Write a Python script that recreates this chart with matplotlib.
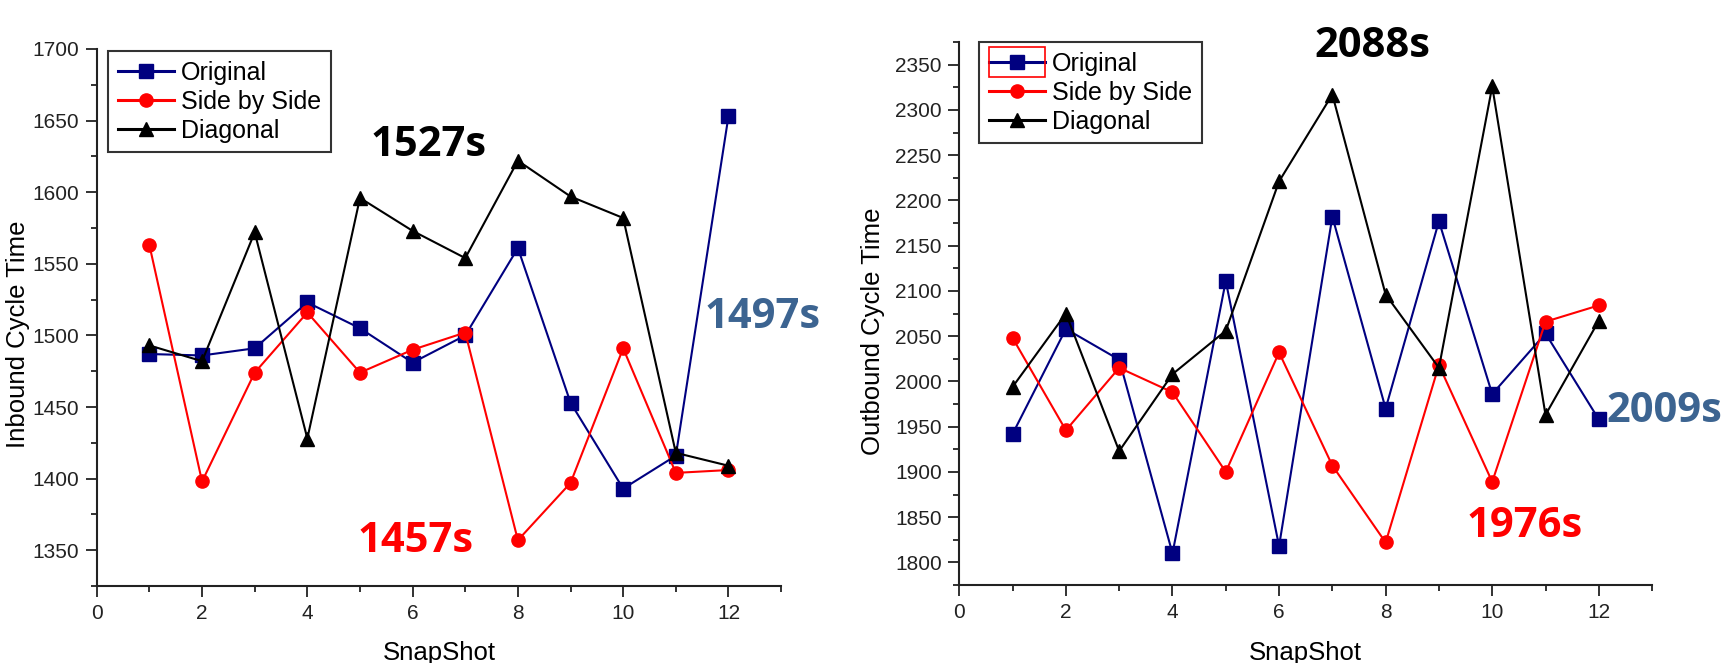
import numpy as np
import matplotlib
matplotlib.use("Agg")
import matplotlib.pyplot as plt
from matplotlib.ticker import MultipleLocator
from matplotlib.patches import Rectangle

plt.rcParams['font.family'] = ['Liberation Sans', 'DejaVu Sans']

snap = [1, 2, 3, 4, 5, 6, 7, 8, 9, 10, 11, 12]

# inbound cycle time
in_original = [1487, 1486, 1491, 1523, 1505, 1481, 1500, 1561, 1453, 1393, 1416, 1653]
in_side = [1563, 1398, 1474, 1516, 1474, 1490, 1502, 1357, 1397, 1491, 1404, 1406]
in_diag = [1493, 1482, 1572, 1428, 1596, 1573, 1554, 1622, 1597, 1582, 1418, 1409]

# outbound cycle time
out_original = [1942, 2058, 2024, 1810, 2111, 1818, 2182, 1970, 2177, 1986, 2053, 1958]
out_side = [2048, 1946, 2015, 1988, 1900, 2032, 1907, 1822, 2018, 1889, 2066, 2084]
out_diag = [1994, 2075, 1923, 2008, 2056, 2221, 2317, 2096, 2015, 2326, 1963, 2067]

labels = ["Original", "Side by Side", "Diagonal"]

NAVY = "#000080"
AX_COL = "#222222"
STEEL = "#3c6491"

fig = plt.figure(figsize=(17.22, 6.63), dpi=100)
ax1 = fig.add_axes([0.0562, 0.1161, 0.3974, 0.810])
ax2 = fig.add_axes([0.5571, 0.1176, 0.4023, 0.819])


def draw(ax, orig, side, diag, ylim, ylabel, leg_anchor):
    ax.plot(snap, orig, color=NAVY, marker='s', ms=9.5, lw=1.5, label=labels[0])
    ax.plot(snap, side, color='red', marker='o', ms=9.5, lw=1.5, label=labels[1])
    ax.plot(snap, diag, color='black', marker='^', ms=10.5, lw=1.5, label=labels[2])
    ax.set_xlim(0, 13)
    ax.set_ylim(*ylim)
    ax.xaxis.set_major_locator(MultipleLocator(2))
    ax.xaxis.set_minor_locator(MultipleLocator(1))
    ax.yaxis.set_major_locator(MultipleLocator(50))
    ax.yaxis.set_minor_locator(MultipleLocator(25))
    for s in ['top', 'right']:
        ax.spines[s].set_visible(False)
    for s in ['left', 'bottom']:
        ax.spines[s].set_linewidth(1.5)
        ax.spines[s].set_color(AX_COL)
    ax.tick_params(which='major', length=7.7, width=1.3, color=AX_COL,
                   labelsize=15, labelcolor=AX_COL, pad=5)
    ax.tick_params(which='minor', length=4.3, width=1.3, color=AX_COL)
    ax.set_xlabel("SnapShot", fontsize=18.5, color='black')
    ax.set_ylabel(ylabel, fontsize=18.5, color='black')
    ax.xaxis.set_label_coords(0.5, -0.103)
    leg = ax.legend(loc='upper left', bbox_to_anchor=leg_anchor,
                    borderaxespad=0, fontsize=18, frameon=True, fancybox=False,
                    edgecolor='black', handlelength=2.25, handletextpad=0.3,
                    borderpad=0.38, labelspacing=0.2)
    leg.get_frame().set_linewidth(1.5)
    for h in leg.legend_handles:
        h.set_linewidth(2.2)
    return leg


leg1 = draw(ax1, in_original, in_side, in_diag, (1325, 1700), "Inbound Cycle Time", (0.0165, 0.996))
leg2 = draw(ax2, out_original, out_side, out_diag, (1775, 2375), "Outbound Cycle Time", (0.0284, 1.0))
ax1.yaxis.set_label_coords(-0.098, 0.469)
ax2.yaxis.set_label_coords(-0.107, 0.467)

big = dict(fontsize=30, fontweight='bold', family=['Open Sans', 'DejaVu Sans'],
           va='baseline', clip_on=False)
ax1.text(6.31, 1625, "1527s", color='black', ha='center', **big)
ax1.text(6.05, 1349, "1457s", color='red', ha='center', **big)
ax1.text(12.64, 1505, "1497s", color=STEEL, ha='center', **big)
ax2.text(7.75, 2359, "2088s", color='black', ha='center', **big)
ax2.text(10.6, 1828, "1976s", color='red', ha='center', **big)
ax2.text(12.15, 1955, "2009s", color=STEEL, ha='left', **big)

# red selection box around first legend entry of the right panel
fig.canvas.draw()
h = leg2.legend_handles[0]
pts = h.get_transform().transform(np.column_stack([h.get_xdata(), h.get_ydata()]))
x0, x1 = pts[:, 0].min(), pts[:, 0].max()
yc = pts[:, 1].mean()
rect = Rectangle((x0, yc - 15), x1 - x0, 30, transform=None, fill=False,
                 edgecolor='red', lw=1.2)
fig.patches.append(rect)

fig.savefig("out.png", dpi=100)
